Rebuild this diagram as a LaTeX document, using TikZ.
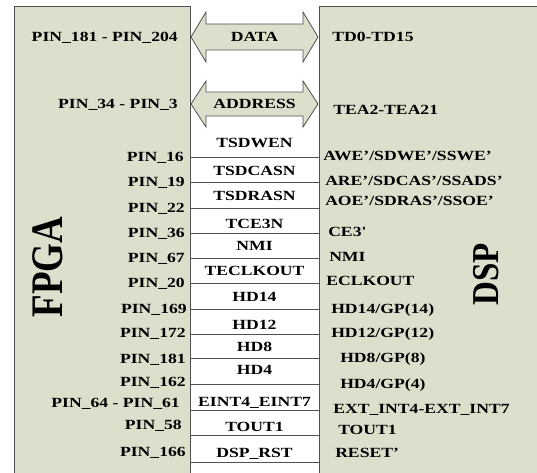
\documentclass[tikz,border=0pt]{standalone}
\usepackage{fontspec}
\setmainfont{Liberation Serif}
\usepackage{graphicx}
\definecolor{boxfill}{RGB}{221,223,205}
\definecolor{edge}{RGB}{80,80,80}
\begin{document}
\begin{tikzpicture}[x=1pt,y=-1pt,
  lbl/.style={font=\fontsize{14}{14}\selectfont\bfseries, inner sep=0pt, text height=9.3pt, text depth=0pt, xscale=1.26},
  lft/.style={lbl, anchor=east},
  rgt/.style={lbl, anchor=west},
  mid/.style={lbl, anchor=center},
  blk/.style={draw=edge, line width=0.9pt, fill=boxfill},
  sep/.style={draw=edge, line width=1pt},
  big/.style={font=\fontsize{37}{37}\selectfont\bfseries, inner sep=0pt, rotate=90}]
\useasboundingbox (0,0) rectangle (537,472);
\clip (0,0) rectangle (537,472);
\fill[white] (0,0) rectangle (537,472);
% blocks
\node[blk, anchor=north west, minimum width=176.5pt, minimum height=480pt, inner sep=0pt] (fpga) at (13.5,5.5) {};
\node[blk, anchor=north west, minimum width=240pt, minimum height=480pt, inner sep=0pt] (dsp) at (319,5.5) {};
% bus arrows
\draw[blk, line width=0.8pt] (191,37) -- (206,12) -- (206,24) -- (303,24) -- (303,12) -- (318,37) -- (303,62) -- (303,50) -- (206,50) -- (206,62) -- cycle;
\draw[blk, line width=0.8pt] (191,104) -- (206,81) -- (206,92) -- (303,92) -- (303,81) -- (318,104) -- (303,127) -- (303,116) -- (206,116) -- (206,127) -- cycle;
\node[mid] (data) at (254.5,37) {DATA};
\node[mid] (addr) at (254.5,104) {ADDRESS};
% separator lines
\foreach \yy/\nm in {157/a,182/b,208/c,233/d,258/e,283/f,309/g,334/h,358/i,384/j,410/k,435/l,462/m}{
  \coordinate (l\nm) at (190,\yy);
  \coordinate (r\nm) at (319,\yy);
  \draw[sep] (l\nm) -- (r\nm);
}
% big labels
\node[big] (fpgat) at (48,267) {\scalebox{1}[1.22]{FPGA}};
\node[big, font=\fontsize{33}{33}\selectfont\bfseries] (dspt) at (486,274) {\scalebox{1}[1.15]{DSP}};
% left labels
\node[lft] (p1) at (178,37) {PIN\_181 - PIN\_204};
\node[lft] (p2) at (178,104) {PIN\_34 - PIN\_3};
\node[lft] (p3) at (184,157) {PIN\_16};
\node[lft] (p4) at (185,182) {PIN\_19};
\node[lft] (p5) at (185,208) {PIN\_22};
\node[lft] (p6) at (185,233) {PIN\_36};
\node[lft] (p7) at (185,258) {PIN\_67};
\node[lft] (p8) at (185,283) {PIN\_20};
\node[lft] (p9) at (187,309) {PIN\_169};
\node[lft] (p10) at (186,333) {PIN\_172};
\node[lft] (p11) at (186,359) {PIN\_181};
\node[lft] (p12) at (186,382) {PIN\_162};
\node[lft] (p13) at (180,403) {PIN\_64 - PIN\_61};
\node[lft] (p14) at (182,425) {PIN\_58};
\node[lft] (p15) at (186,452) {PIN\_166};
% middle labels
\node[mid] (m1) at (254.5,143) {TSDWEN};
\node[mid] (m2) at (254.5,171) {TSDCASN};
\node[mid] (m3) at (254.5,196) {TSDRASN};
\node[mid] (m4) at (254.5,224) {TCE3N};
\node[mid] (m5) at (254.5,246) {NMI};
\node[mid] (m6) at (254.5,271) {TECLKOUT};
\node[mid] (m7) at (254.5,297) {HD14};
\node[mid] (m8) at (254.5,325) {HD12};
\node[mid] (m9) at (254.5,347) {HD8};
\node[mid] (m10) at (254.5,370) {HD4};
\node[mid] (m11) at (254.5,402) {EINT4\_EINT7};
\node[mid] (m12) at (254.5,427) {TOUT1};
\node[mid] (m13) at (254.5,453) {DSP\_RST};
% right labels
\node[rgt] (d1) at (332,37) {TD0-TD15};
\node[rgt] (d2) at (333,110) {TEA2-TEA21};
\node[rgt] (d3) at (323,156) {AWE’/SDWE’/SSWE’};
\node[rgt] (d4) at (325,181) {ARE’/SDCAS’/SSADS’};
\node[rgt] (d5) at (325,201) {AOE’/SDRAS’/SSOE’};
\node[rgt] (d6) at (328,232) {CE3\textquotesingle};
\node[rgt] (d7) at (329,257) {NMI};
\node[rgt] (d8) at (326,281) {ECLKOUT};
\node[rgt] (d9) at (331,309) {HD14/GP(14)};
\node[rgt] (d10) at (331,333) {HD12/GP(12)};
\node[rgt] (d11) at (340,358) {HD8/GP(8)};
\node[rgt] (d12) at (340,384) {HD4/GP(4)};
\node[rgt] (d13) at (333,409) {EXT\_INT4-EXT\_INT7};
\node[rgt] (d14) at (338,430) {TOUT1};
\node[rgt] (d15) at (335,453) {RESET’};
\end{tikzpicture}
\end{document}
